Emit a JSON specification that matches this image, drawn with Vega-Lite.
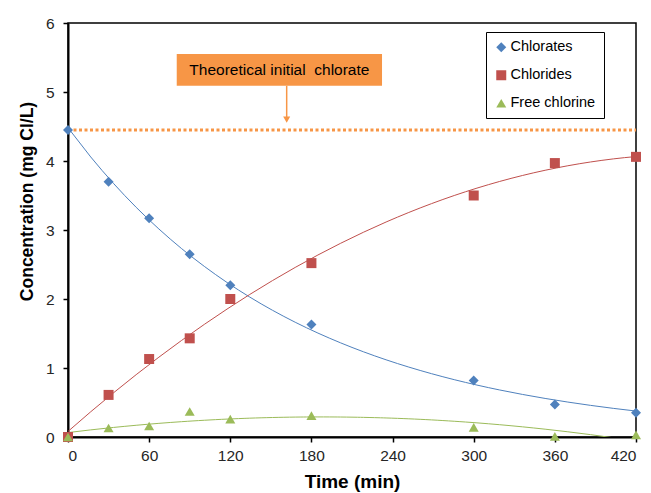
{
  "$schema": "https://vega.github.io/schema/vega-lite/v6.json",
  "width": 568,
  "height": 414,
  "autosize": {"type": "none"},
  "padding": {"left": 68, "top": 23, "right": 15, "bottom": 56},
  "background": "white",
  "config": {
    "font": "Liberation Sans",
    "view": {"stroke": "black", "strokeWidth": 1.5},
    "axis": {
      "grid": false,
      "domainColor": "black",
      "domainWidth": 2,
      "tickColor": "black",
      "tickWidth": 1.5,
      "tickSize": 5,
      "labelFont": "Liberation Sans",
      "labelFontSize": 15.5,
      "labelColor": "#262626",
      "titleFont": "Liberation Sans",
      "titleFontSize": 17.5,
      "titleFontWeight": "bold",
      "titleColor": "black"
    }
  },
  "datasets": {
    "measurements": [
      {"time": 0, "value": 4.45, "series": "Chlorates"},
      {"time": 30, "value": 3.7, "series": "Chlorates"},
      {"time": 60, "value": 3.17, "series": "Chlorates"},
      {"time": 90, "value": 2.65, "series": "Chlorates"},
      {"time": 120, "value": 2.2, "series": "Chlorates"},
      {"time": 180, "value": 1.63, "series": "Chlorates"},
      {"time": 300, "value": 0.82, "series": "Chlorates"},
      {"time": 360, "value": 0.47, "series": "Chlorates"},
      {"time": 420, "value": 0.35, "series": "Chlorates"},
      {"time": 0, "value": 0, "series": "Chlorides"},
      {"time": 30, "value": 0.61, "series": "Chlorides"},
      {"time": 60, "value": 1.13, "series": "Chlorides"},
      {"time": 90, "value": 1.43, "series": "Chlorides"},
      {"time": 120, "value": 2.0, "series": "Chlorides"},
      {"time": 180, "value": 2.52, "series": "Chlorides"},
      {"time": 300, "value": 3.5, "series": "Chlorides"},
      {"time": 360, "value": 3.97, "series": "Chlorides"},
      {"time": 420, "value": 4.06, "series": "Chlorides"},
      {"time": 0, "value": 0, "series": "Free chlorine"},
      {"time": 30, "value": 0.13, "series": "Free chlorine"},
      {"time": 60, "value": 0.16, "series": "Free chlorine"},
      {"time": 90, "value": 0.37, "series": "Free chlorine"},
      {"time": 120, "value": 0.26, "series": "Free chlorine"},
      {"time": 180, "value": 0.31, "series": "Free chlorine"},
      {"time": 300, "value": 0.14, "series": "Free chlorine"},
      {"time": 360, "value": 0.01, "series": "Free chlorine"},
      {"time": 420, "value": 0.03, "series": "Free chlorine"}
    ],
    "theory": [
      {"time": 0, "value": 4.45},
      {"time": 420, "value": 4.45}
    ],
    "callout": [
      {"x1": 80.4, "x2": 232.2, "y1": 5.09, "y2": 5.55, "xm": 156.3, "ym": 5.32, "label": "Theoretical initial\u00a0 chlorate", "ax": 161.7, "ay1": 5.09, "ay2": 4.62, "ahead": 4.6}
    ]
  },
  "layer": [
    {
      "data": {"name": "theory"},
      "mark": {"type": "line", "color": "#F79646", "strokeWidth": 3, "strokeDash": [3, 2.5]},
      "encoding": {
        "x": {"field": "time", "type": "quantitative", "scale": {"domain": [0, 420], "nice": false},
          "axis": {"values": [0, 60, 120, 180, 240, 300, 360, 420], "title": "Time (min)", "titleFontSize": 19, "labelPadding": 6, "titlePadding": 9}},
        "y": {"field": "value", "type": "quantitative", "scale": {"domain": [0, 6], "nice": false},
          "axis": {"values": [0, 1, 2, 3, 4, 5, 6], "format": "d", "title": "Concentration (mg Cl/L)", "labelPadding": 9, "titlePadding": 9, "titleY": 178}}
      }
    },
    {
      "data": {"name": "measurements"},
      "transform": [
        {"filter": "datum.series === 'Chlorates'"},
        {"regression": "value", "on": "time", "groupby": ["series"], "method": "exp", "extent": [0, 420]}
      ],
      "mark": {"type": "line", "strokeWidth": 1, "clip": true},
      "encoding": {
        "x": {"field": "time", "type": "quantitative"},
        "y": {"field": "value", "type": "quantitative"},
        "color": {"field": "series", "type": "nominal"}
      }
    },
    {
      "data": {"name": "measurements"},
      "transform": [
        {"filter": "datum.series !== 'Chlorates'"},
        {"regression": "value", "on": "time", "groupby": ["series"], "method": "poly", "order": 2, "extent": [0, 420]}
      ],
      "mark": {"type": "line", "strokeWidth": 1, "clip": true},
      "encoding": {
        "x": {"field": "time", "type": "quantitative"},
        "y": {"field": "value", "type": "quantitative"},
        "color": {"field": "series", "type": "nominal"}
      }
    },
    {
      "data": {"name": "measurements"},
      "mark": {"type": "point", "filled": true, "opacity": 1, "size": 100},
      "encoding": {
        "x": {"field": "time", "type": "quantitative"},
        "y": {"field": "value", "type": "quantitative"},
        "color": {"field": "series", "type": "nominal",
          "scale": {"domain": ["Chlorates", "Chlorides", "Free chlorine"], "range": ["#4F81BD", "#C0504D", "#9BBB59"]},
          "legend": {"title": null, "orient": "none", "legendX": 418, "legendY": 9, "strokeColor": "black", "fillColor": "white",
            "padding": 8, "labelFontSize": 14.5, "labelFont": "Liberation Sans", "labelColor": "black", "symbolSize": 100, "symbolStrokeWidth": 0, "rowPadding": 13, "labelOffset": 2}},
        "shape": {"field": "series", "type": "nominal",
          "scale": {"domain": ["Chlorates", "Chlorides", "Free chlorine"], "range": ["diamond", "square", "triangle-up"]}}
      }
    },
    {
      "data": {"name": "callout"},
      "mark": {"type": "rect", "fill": "#F79646"},
      "encoding": {
        "x": {"field": "x1", "type": "quantitative"},
        "x2": {"field": "x2"},
        "y": {"field": "y1", "type": "quantitative"},
        "y2": {"field": "y2"}
      }
    },
    {
      "data": {"name": "callout"},
      "mark": {"type": "text", "fontSize": 15.5, "color": "black", "font": "Liberation Sans"},
      "encoding": {
        "x": {"field": "xm", "type": "quantitative"},
        "y": {"field": "ym", "type": "quantitative"},
        "text": {"field": "label"}
      }
    },
    {
      "data": {"name": "callout"},
      "mark": {"type": "rule", "color": "#F79646", "strokeWidth": 1.5},
      "encoding": {
        "x": {"field": "ax", "type": "quantitative"},
        "y": {"field": "ay1", "type": "quantitative"},
        "y2": {"field": "ay2"}
      }
    },
    {
      "data": {"name": "callout"},
      "mark": {"type": "point", "shape": "triangle-down", "filled": true, "color": "#F79646", "opacity": 1, "size": 50},
      "encoding": {
        "x": {"field": "ax", "type": "quantitative"},
        "y": {"field": "ahead", "type": "quantitative"}
      }
    }
  ]
}
